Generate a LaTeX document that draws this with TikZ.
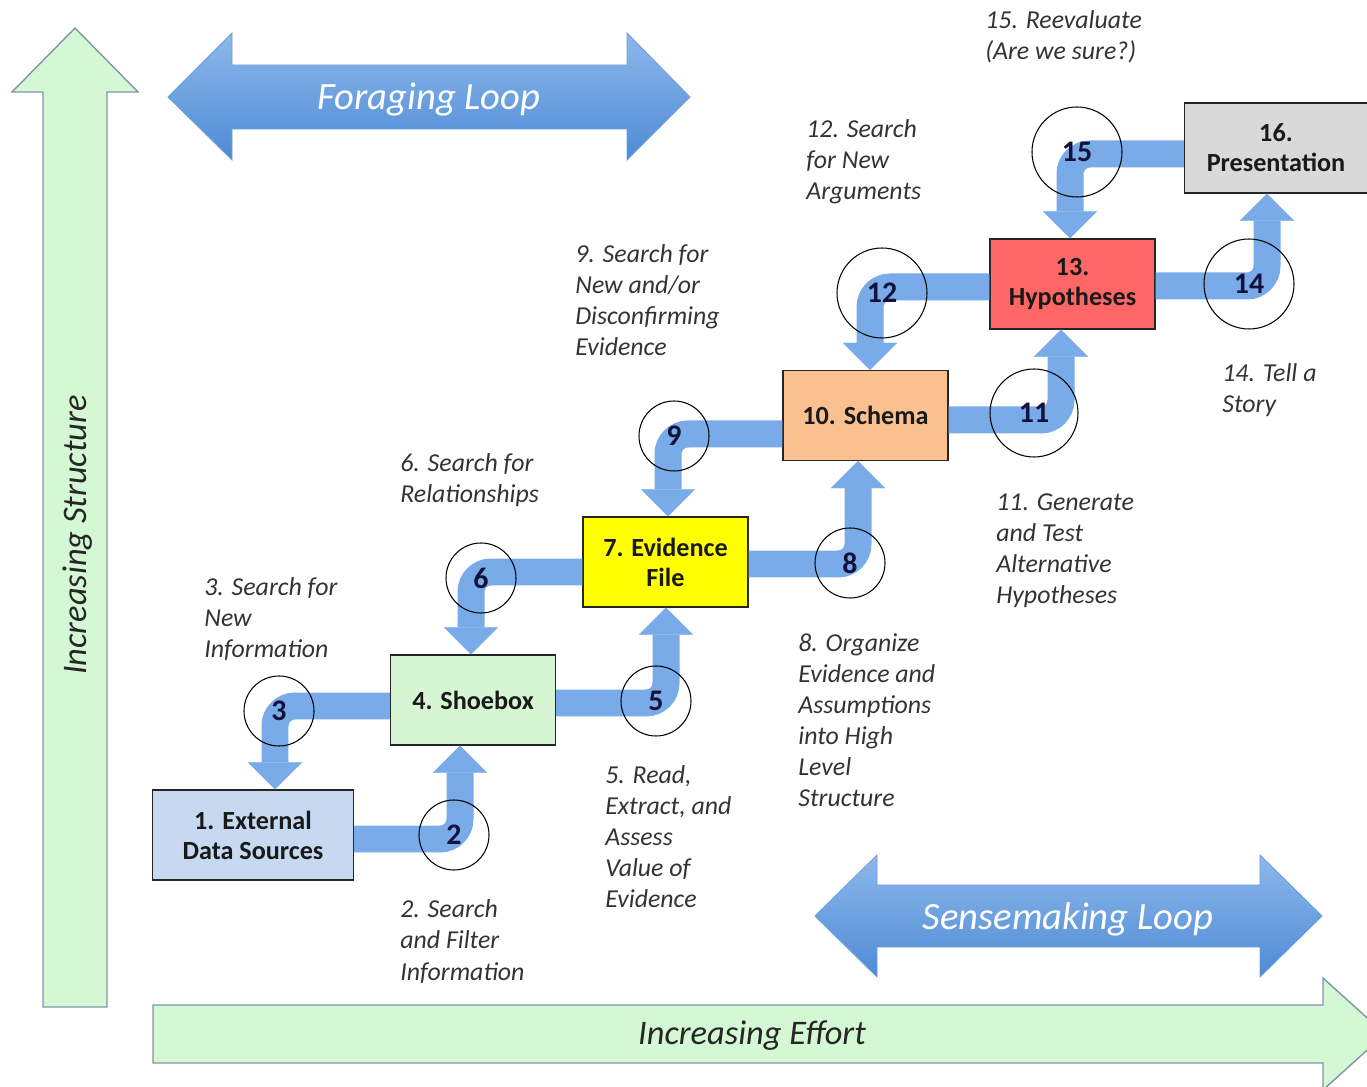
\documentclass[tikz,border=0pt]{standalone}
\usepackage{fontspec}
\setmainfont{Carlito}
\usepackage{xcolor}
\usepackage{tikz}
\usetikzlibrary{arrows.meta}

\definecolor{axisgreen}{HTML}{D3F8D3}
\definecolor{axisline}{HTML}{7F95AD}
\definecolor{looptop}{HTML}{8DB8EC}
\definecolor{loopbottom}{HTML}{4E8BD4}
\definecolor{loopedge}{HTML}{6F9FD8}
\definecolor{flowblue}{HTML}{78ABE7}
\definecolor{extfill}{HTML}{C6D9F1}
\definecolor{shoefill}{HTML}{D5F5D3}
\definecolor{evifill}{HTML}{FFFF00}
\definecolor{schemafill}{HTML}{FAC090}
\definecolor{hypofill}{HTML}{FF6666}
\definecolor{presfill}{HTML}{D9D9D9}
\definecolor{labelgray}{HTML}{333333}
\definecolor{numnavy}{HTML}{12123C}

\begin{document}
\begin{tikzpicture}[x=0.02cm,y=-0.02cm,
  box/.style={draw=black!85,line width=0.7pt,minimum width=3.3cm,minimum height=1.8cm,inner sep=0pt,align=center,text=black!90,font=\bfseries\fontsize{14.9}{17}\selectfont},
  ring/.style={circle,draw=black,line width=0.6pt,inner sep=0pt,text=numnavy,font=\bfseries\fontsize{17}{17}\selectfont},
  flow/.style={draw=flowblue,line width=0.54cm,rounded corners=0.4cm,-{Triangle[width=1.08cm,length=0.54cm,line width=0.1pt]}},
  note/.style={anchor=base west,align=left,inner sep=0pt,text=labelgray,font=\itshape\fontsize{14.7}{17.7}\selectfont},
  axisshape/.style={fill=axisgreen,draw=axisline,line width=0.8pt},
  loopshape/.style={top color=looptop,bottom color=loopbottom,draw=loopedge,line width=0.5pt},
  looptext/.style={text=white,font=\itshape\fontsize{22}{22}\selectfont}]

\useasboundingbox (0,0) rectangle (1367,1087);
\clip (0,0) rectangle (1367,1087);

% axes
\path[axisshape] (43,1007) -- (43,92) -- (12,92) -- (75,28) -- (138,92) -- (107,92) -- (107,1007) -- cycle;
\path[axisshape] (153,1005) -- (1323,1005) -- (1323,978) -- (1385,1034) -- (1323,1090) -- (1323,1063) -- (153,1063) -- cycle;
\node[rotate=90,font=\itshape\fontsize{19.6}{19.6}\selectfont,text=black!85] (structure) at (78,535) {Increasing Structure};
\node[font=\itshape\fontsize{19.6}{19.6}\selectfont,text=black!85] (effort) at (752,1036) {Increasing Effort};

% loops
\path[loopshape] (168,97) -- (232,33) -- (232,65) -- (627,65) -- (627,33) -- (690,97) -- (627,160) -- (627,129) -- (232,129) -- (232,160) -- cycle;
\node[looptext] (foraging) at (429,100) {Foraging Loop};
\path[loopshape] (815,916) -- (877,855) -- (877,885) -- (1260,885) -- (1260,855) -- (1322,916) -- (1260,977) -- (1260,947) -- (877,947) -- (877,977) -- cycle;
\node[looptext] (sensemaking) at (1068,919) {Sensemaking Loop};

% boxes
\node[box,fill=extfill,minimum width=4.02cm] (extdata) at (253,835) {1. External\\Data Sources};
\node[box,fill=shoefill] (shoebox) at (473,700) {4. Shoebox};
\node[box,fill=evifill] (evidence) at (665.5,562) {7. Evidence\\File};
\node[box,fill=schemafill] (schema) at (865.5,415.5) {10. Schema};
\node[box,fill=hypofill] (hypo) at (1072.5,284) {13.\\Hypotheses};
\node[box,fill=presfill,minimum width=3.66cm] (present) at (1276,148) {16.\\Presentation};

% bends
\coordinate (b2) at (460,839);
\coordinate (b3) at (275,706);
\coordinate (b5) at (666,703);
\coordinate (b6) at (471,572);
\coordinate (b8) at (858,564);
\coordinate (b9) at (668,434);
\coordinate (b11) at (1061,420);
\coordinate (b12) at (870,287);
\coordinate (b14) at (1267,286);
\coordinate (b15) at (1070,154);

% flow arrows
\draw[flow] (b2 -| extdata.east) -- (b2) -- (b2 |- shoebox.south);
\draw[flow] (b3 -| shoebox.west) -- (b3) -- (b3 |- extdata.north);
\draw[flow] (b5 -| shoebox.east) -- (b5) -- (b5 |- evidence.south);
\draw[flow] (b6 -| evidence.west) -- (b6) -- (b6 |- shoebox.north);
\draw[flow] (b8 -| evidence.east) -- (b8) -- (b8 |- schema.south);
\draw[flow] (b9 -| schema.west) -- (b9) -- (b9 |- evidence.north);
\draw[flow] (b11 -| schema.east) -- (b11) -- (b11 |- hypo.south);
\draw[flow] (b12 -| hypo.west) -- (b12) -- (b12 |- schema.north);
\draw[flow] (b14 -| hypo.east) -- (b14) -- (b14 |- present.south);
\draw[flow] (b15 -| present.west) -- (b15) -- (b15 |- hypo.north);

% step circles
\foreach \n/\x/\y/\r in {2/454/835/35,3/279/711/35,5/656/701/35,6/481/578/35,8/850/563/35,9/674/436/35,11/1034/413/44,12/882/293/45,14/1249/284/45,15/1077/152/45}
  \node[ring,minimum size={2*\r*0.02cm}] (c\n) at (\x,\y) {\n};

% step notes (placed by the baseline of their last line)
\node[note] (n2) at (400,980) {2. Search\\and Filter\\Information};
\node[note] (n3) at (204,658) {3. Search for\\New\\Information};
\node[note] (n5) at (605,908) {5. Read,\\Extract, and\\Assess\\Value of\\Evidence};
\node[note] (n6) at (400,503) {6. Search for\\Relationships};
\node[note] (n8) at (798,807) {8. Organize\\Evidence and\\Assumptions\\into High\\Level\\Structure};
\node[note] (n9) at (575,356) {9. Search for\\New and/or\\Disconfirming\\Evidence};
\node[note] (n11) at (996,604) {11. Generate\\and Test\\Alternative\\Hypotheses};
\node[note] (n12) at (806,200) {12. Search\\for New\\Arguments};
\node[note] (n14) at (1222,413) {14. Tell a\\Story};
\node[note] (n15) at (985,60) {15. Reevaluate\\(Are we sure?)};

\end{tikzpicture}
\end{document}
